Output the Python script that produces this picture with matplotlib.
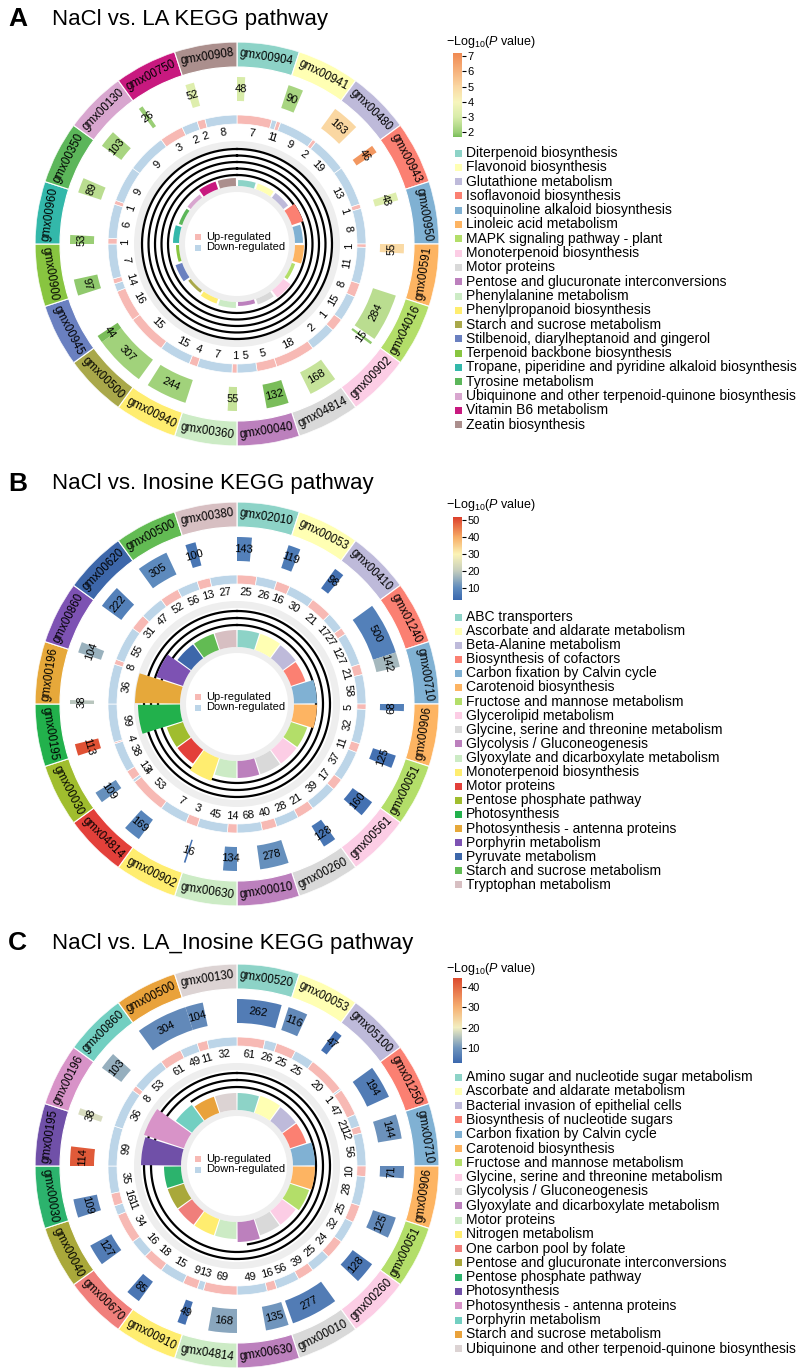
import numpy as np
import matplotlib
matplotlib.use('Agg')
import matplotlib.pyplot as plt
from matplotlib.colors import LinearSegmentedColormap, Normalize
from matplotlib.cm import ScalarMappable
from matplotlib.patches import Rectangle

plt.rcParams['font.family'] = ['Liberation Sans', 'DejaVu Sans']
plt.rcParams['mathtext.fontset'] = 'custom'
plt.rcParams['mathtext.rm'] = 'Liberation Sans'
plt.rcParams['mathtext.it'] = 'Liberation Sans:italic'

# ---------------- panel A: NaCl vs. LA ----------------
ids_A = ['gmx00904', 'gmx00941', 'gmx00480', 'gmx00943', 'gmx00950', 'gmx00591', 'gmx04016',
         'gmx00902', 'gmx04814', 'gmx00040', 'gmx00360', 'gmx00940', 'gmx00500', 'gmx00945',
         'gmx00900', 'gmx00960', 'gmx00350', 'gmx00130', 'gmx00750', 'gmx00908']
names_A = ['Diterpenoid biosynthesis', 'Flavonoid biosynthesis', 'Glutathione metabolism',
           'Isoflavonoid biosynthesis', 'Isoquinoline alkaloid biosynthesis', 'Linoleic acid metabolism',
           'MAPK signaling pathway - plant', 'Monoterpenoid biosynthesis', 'Motor proteins',
           'Pentose and glucuronate interconversions', 'Phenylalanine metabolism',
           'Phenylpropanoid biosynthesis', 'Starch and sucrose metabolism',
           'Stilbenoid, diarylheptanoid and gingerol', 'Terpenoid backbone biosynthesis',
           'Tropane, piperidine and pyridine alkaloid biosynthesis', 'Tyrosine metabolism',
           'Ubiquinone and other terpenoid-quinone biosynthesis', 'Vitamin B6 metabolism',
           'Zeatin biosynthesis']
colors_A = ['#8dd3c7', '#ffffb3', '#bebada', '#fb8072', '#80b1d3', '#fdb462', '#b3de69', '#fccde5',
            '#d9d9d9', '#bc80bd', '#ccebc5', '#ffed6f', '#a9a84a', '#6a80c0', '#88c540', '#33b8aa',
            '#5cb65a', '#d8a6cf', '#c8197f', '#ab8f8d']
genes_A = [48, 90, 163, 46, 48, 55, 284, 15, 168, 132, 55, 244, 307, 44, 97, 53, 89, 103, 26, 52]
logp_A = [3.0, 2.2, 5.0, 6.8, 3.2, 4.9, 2.5, 1.9, 2.7, 1.7, 2.7, 2.1, 2.1, 1.7, 1.9, 2.0, 2.5, 2.2, 2.0, 3.2]
up_A = [7, 1, 2, 0, 1, 1, 8, 1, 18, 5, 1, 4, 15, 16, 1, 1, 1, 0, 3, 2]
down_A = [1, 9, 19, 13, 8, 11, 15, 2, 0, 5, 7, 15, 0, 4, 7, 6, 9, 9, 2, 8]
rich_A = [0.06, 0.06, 0.06, 0.12, 0.08, 0.09, 0.035, 0.09, 0.06, 0.04, 0.06, 0.05, 0.03, 0.07,
          0.03, 0.06, 0.035, 0.04, 0.08, 0.08]
ticks_A = [2, 3, 4, 5, 6, 7]

# ---------------- panel B: NaCl vs. Inosine ----------------
ids_B = ['gmx02010', 'gmx00053', 'gmx00410', 'gmx01240', 'gmx00710', 'gmx00906', 'gmx00051',
         'gmx00561', 'gmx00260', 'gmx00010', 'gmx00630', 'gmx00902', 'gmx04814', 'gmx00030',
         'gmx00195', 'gmx00196', 'gmx00860', 'gmx00620', 'gmx00500', 'gmx00380']
names_B = ['ABC transporters', 'Ascorbate and aldarate metabolism', 'Beta-Alanine metabolism',
           'Biosynthesis of cofactors', 'Carbon fixation by Calvin cycle', 'Carotenoid biosynthesis',
           'Fructose and mannose metabolism', 'Glycerolipid metabolism',
           'Glycine, serine and threonine metabolism', 'Glycolysis / Gluconeogenesis',
           'Glyoxylate and dicarboxylate metabolism', 'Monoterpenoid biosynthesis', 'Motor proteins',
           'Pentose phosphate pathway', 'Photosynthesis', 'Photosynthesis - antenna proteins',
           'Porphyrin metabolism', 'Pyruvate metabolism', 'Starch and sucrose metabolism',
           'Tryptophan metabolism']
colors_B = ['#8dd3c7', '#ffffb3', '#bebada', '#fb8072', '#80b1d3', '#fdb462', '#b3de69', '#fccde5',
            '#d9d9d9', '#bc80bd', '#ccebc5', '#ffed6f', '#e3403a', '#a0bd2e', '#22b14c', '#e6a83a',
            '#7d52b3', '#3d67aa', '#62bb53', '#d7bfc2']
genes_B = [143, 119, 98, 500, 142, 68, 125, 160, 128, 278, 134, 16, 169, 109, 113, 38, 104, 222, 305, 100]
logp_B = [8, 7, 5, 8, 17, 8, 5, 5, 6, 11, 10, 5, 9, 11, 50, 19, 16, 8, 10, 6]
up_B = [25, 16, 21, 27, 21, 5, 11, 17, 21, 40, 14, 3, 53, 13, 4, 0, 8, 31, 52, 13]
down_B = [26, 30, 17, 127, 58, 32, 37, 39, 28, 68, 45, 7, 4, 38, 99, 36, 55, 47, 56, 27]
rich_B = [0.17, 0.17, 0.16, 0.15, 0.23, 0.23, 0.17, 0.17, 0.17, 0.17, 0.17, 0.24, 0.17, 0.17,
          0.42, 0.45, 0.28, 0.17, 0.17, 0.17]
ticks_B = [10, 20, 30, 40, 50]

# ---------------- panel C: NaCl vs. LA_Inosine ----------------
ids_C = ['gmx00520', 'gmx00053', 'gmx05100', 'gmx01250', 'gmx00710', 'gmx00906', 'gmx00051',
         'gmx00260', 'gmx00010', 'gmx00630', 'gmx04814', 'gmx00910', 'gmx00670', 'gmx00040',
         'gmx00030', 'gmx00195', 'gmx00196', 'gmx00860', 'gmx00500', 'gmx00130']
names_C = ['Amino sugar and nucleotide sugar metabolism', 'Ascorbate and aldarate metabolism',
           'Bacterial invasion of epithelial cells', 'Biosynthesis of nucleotide sugars',
           'Carbon fixation by Calvin cycle', 'Carotenoid biosynthesis',
           'Fructose and mannose metabolism', 'Glycine, serine and threonine metabolism',
           'Glycolysis / Gluconeogenesis', 'Glyoxylate and dicarboxylate metabolism', 'Motor proteins',
           'Nitrogen metabolism', 'One carbon pool by folate', 'Pentose and glucuronate interconversions',
           'Pentose phosphate pathway', 'Photosynthesis', 'Photosynthesis - antenna proteins',
           'Porphyrin metabolism', 'Starch and sucrose metabolism',
           'Ubiquinone and other terpenoid-quinone biosynthesis']
colors_C = ['#8dd3c7', '#ffffb3', '#bebada', '#fb8072', '#80b1d3', '#fdb462', '#b3de69', '#fccde5',
            '#d9d9d9', '#bc80bd', '#ccebc5', '#ffed6f', '#f07f7b', '#a9a83a', '#2cb36d', '#7050a8',
            '#d893c8', '#72cfc1', '#e9a23b', '#dcd3d3']
genes_C = [262, 116, 47, 194, 144, 71, 125, 128, 277, 135, 168, 49, 85, 127, 109, 114, 38, 103, 304, 104]
logp_C = [6, 8, 4, 6, 9.5, 8, 8, 5, 6, 10, 12, 4, 5, 6, 7, 42, 18, 13, 8, 8]
up_C = [61, 25, 20, 47, 12, 10, 25, 24, 39, 16, 69, 9, 18, 34, 16, 0, 0, 8, 61, 11]
down_C = [26, 25, 1, 21, 56, 28, 32, 25, 56, 49, 13, 15, 16, 11, 35, 99, 36, 53, 49, 32]
rich_C = [0.17, 0.18, 0.17, 0.17, 0.22, 0.22, 0.20, 0.17, 0.17, 0.20, 0.17, 0.17, 0.17, 0.17,
          0.17, 0.40, 0.42, 0.20, 0.17, 0.17]
ticks_C = [10, 20, 30, 40]

W, H = 800, 1371
R = 202
UP_COL = '#f7b9b4'
DOWN_COL = '#bcd5e8'


def make_cmap(nodes):
    lo, hi = nodes[0][0], nodes[-1][0]
    cmap = LinearSegmentedColormap.from_list('p', [((v - lo) / (hi - lo), c) for v, c in nodes])
    return cmap, Normalize(lo, hi)


def tangent_rot(deg):
    d = deg % 360
    if d < 90 or d > 270:
        return -d
    return 180 - d


def label(ax, deg, r, s, size):
    ax.text(np.radians(deg), r, s, rotation=tangent_rot(deg), rotation_mode='anchor',
            ha='center', va='center', fontsize=size, zorder=6)


def draw_circle(fig, cx, cy, ids, colors, genes, logp, up, down, rich, cmap, norm,
                base, rings, partial=None, inner_w=17):
    ax = fig.add_axes([(cx - R) / W, (H - cy - R) / H, 2 * R / W, 2 * R / H], projection='polar')
    ax.set_theta_zero_location('N')
    ax.set_theta_direction(-1)
    ax.set_ylim(0, R)
    ax.set_axis_off()
    n = len(ids)
    step = 360 / n
    gmax = max(genes)
    for i in range(n):
        a0 = i * step
        # outer ring: pathway id
        ax.bar(np.radians(a0), 25, width=np.radians(step), bottom=177, align='edge',
               color=colors[i], edgecolor='white', linewidth=0.8)
        label(ax, a0 + step / 2, 189.5, ids[i], 8.3)
        # ring 2: number of genes, coloured by -log10 P
        w = genes[i] / gmax * step
        ax.bar(np.radians(a0), 24, width=np.radians(w), bottom=143, align='edge',
               color=cmap(norm(logp[i])), linewidth=0)
        label(ax, a0 + w / 2, 155, str(genes[i]), 8)
        # ring 3: up / down regulated
        tot = up[i] + down[i]
        a = a0
        for v, col in ((up[i], UP_COL), (down[i], DOWN_COL)):
            if v == 0:
                continue
            w = v / tot * step
            ax.bar(np.radians(a), 9, width=np.radians(w), bottom=120, align='edge',
                   color=col, edgecolor='white', linewidth=0.5)
            label(ax, a + w / 2, 112, str(v), 8)
            a += w
        # inner bars: rich factor
        ax.bar(np.radians(a0 + step / 2), rich[i] * 100, width=np.radians(inner_w), bottom=base,
               color=colors[i], linewidth=0, zorder=4)
    ax.bar(0, 7, width=2 * np.pi, bottom=96, align='edge', color='#eeeeee', linewidth=0, zorder=1)
    ax.bar(0, 6, width=2 * np.pi, bottom=base - 6, align='edge', color='#eeeeee', linewidth=0, zorder=1)
    full = np.linspace(0, 2 * np.pi, 400)
    for r in rings:
        ax.plot(full, np.full_like(full, r), color='black', lw=1.6, zorder=3)
    if partial is not None:
        r, t0, t1 = partial
        t = np.radians(np.linspace(t0, t1, 200))
        ax.plot(t, np.full_like(t, r), color='black', lw=1.6, zorder=3)
    return ax


fig = plt.figure(figsize=(W / 100, H / 100), dpi=100)

cmap_A, norm_A = make_cmap([(1.7, '#7abd5a'), (2, '#9ccf77'), (3, '#d8eca9'), (4, '#f7f5bd'),
                            (5, '#fad7a2'), (6, '#f6b27c'), (7.2, '#f08a52')])
cmap_B, norm_B = make_cmap([(3, '#3a68ae'), (10, '#5d8abd'), (20, '#c3ccbd'), (30, '#fbf3b6'),
                            (40, '#f7ad66'), (52, '#dc3f2b')])
cmap_C, norm_C = make_cmap([(2.6, '#3b68ae'), (10, '#7095bd'), (20, '#f2eec0'), (30, '#f6b172'),
                            (44.4, '#dc4a2e')])

panels = [
    dict(letter='A', title='NaCl vs. LA KEGG pathway', cx=237, cy=244, ids=ids_A, names=names_A,
         colors=colors_A, genes=genes_A, logp=logp_A, up=up_A, down=down_A, rich=rich_A,
         cmap=cmap_A, norm=norm_A, ticks=ticks_A, base=58, rings=[95, 88.5, 82, 75.5, 69],
         partial=None, inner_w=16, title_y=19, cb=(53, 137), cb_title_y=42, leg_y=153, leg_step=14.3),
    dict(letter='B', title='NaCl vs. Inosine KEGG pathway', cx=237, cy=704, ids=ids_B, names=names_B,
         colors=colors_B, genes=genes_B, logp=logp_B, up=up_B, down=down_B, rich=rich_B,
         cmap=cmap_B, norm=norm_B, ticks=ticks_B, base=57, rings=[93, 86, 79],
         partial=None, inner_w=17, title_y=484, cb=(517, 600), cb_title_y=505, leg_y=617, leg_step=14.1),
    dict(letter='C', title='NaCl vs. LA_Inosine KEGG pathway', cx=237, cy=1166, ids=ids_C, names=names_C,
         colors=colors_C, genes=genes_C, logp=logp_C, up=up_C, down=down_C, rich=rich_C,
         cmap=cmap_C, norm=norm_C, ticks=ticks_C, base=56, rings=[93, 86],
         partial=(79, -35, 172), inner_w=17, title_y=943, cb=(978, 1063), cb_title_y=969, leg_y=1077,
         leg_step=14.3),
]

for p in panels:
    draw_circle(fig, p['cx'], p['cy'], p['ids'], p['colors'], p['genes'], p['logp'], p['up'],
                p['down'], p['rich'], p['cmap'], p['norm'], p['base'], p['rings'],
                p['partial'], p['inner_w'])
    top, bot = p['cb']
    cax = fig.add_axes([453 / W, (H - bot) / H, 9 / W, (bot - top) / H])
    cb = fig.colorbar(ScalarMappable(norm=p['norm'], cmap=p['cmap']), cax=cax, ticks=p['ticks'])
    cb.outline.set_visible(False)
    cax.tick_params(labelsize=8, length=3, width=0.8, pad=1)

# overlay in pixel coordinates for titles and legends
ov = fig.add_axes([0, 0, 1, 1])
ov.set_xlim(0, W)
ov.set_ylim(H, 0)
ov.axis('off')

for p in panels:
    ov.text(8, p['title_y'], p['letter'], fontsize=19, fontweight='bold', va='center', ha='left')
    ov.text(52, p['title_y'], p['title'], fontsize=16, va='center', ha='left')
    ov.text(446, p['cb_title_y'], r'$-$Log$_{10}$($P$ value)', fontsize=9, va='center', ha='left')
    for k, (nm, col) in enumerate(zip(p['names'], p['colors'])):
        y = p['leg_y'] + k * p['leg_step']
        ov.add_patch(Rectangle((455, y - 3.5), 7, 7, color=col, linewidth=0))
        ov.text(466, y, nm, fontsize=10, va='center', ha='left')
    cx, cy = p['cx'], p['cy']
    ov.add_patch(Rectangle((cx - 42, cy - 10), 6, 6, color=UP_COL, linewidth=0))
    ov.text(cx - 31, cy - 7, 'Up-regulated', fontsize=8, va='center', ha='left')
    ov.add_patch(Rectangle((cx - 42, cy + 0.5), 6, 6, color=DOWN_COL, linewidth=0))
    ov.text(cx - 31, cy + 3.5, 'Down-regulated', fontsize=8, va='center', ha='left')

fig.savefig('out.png', dpi=100)
